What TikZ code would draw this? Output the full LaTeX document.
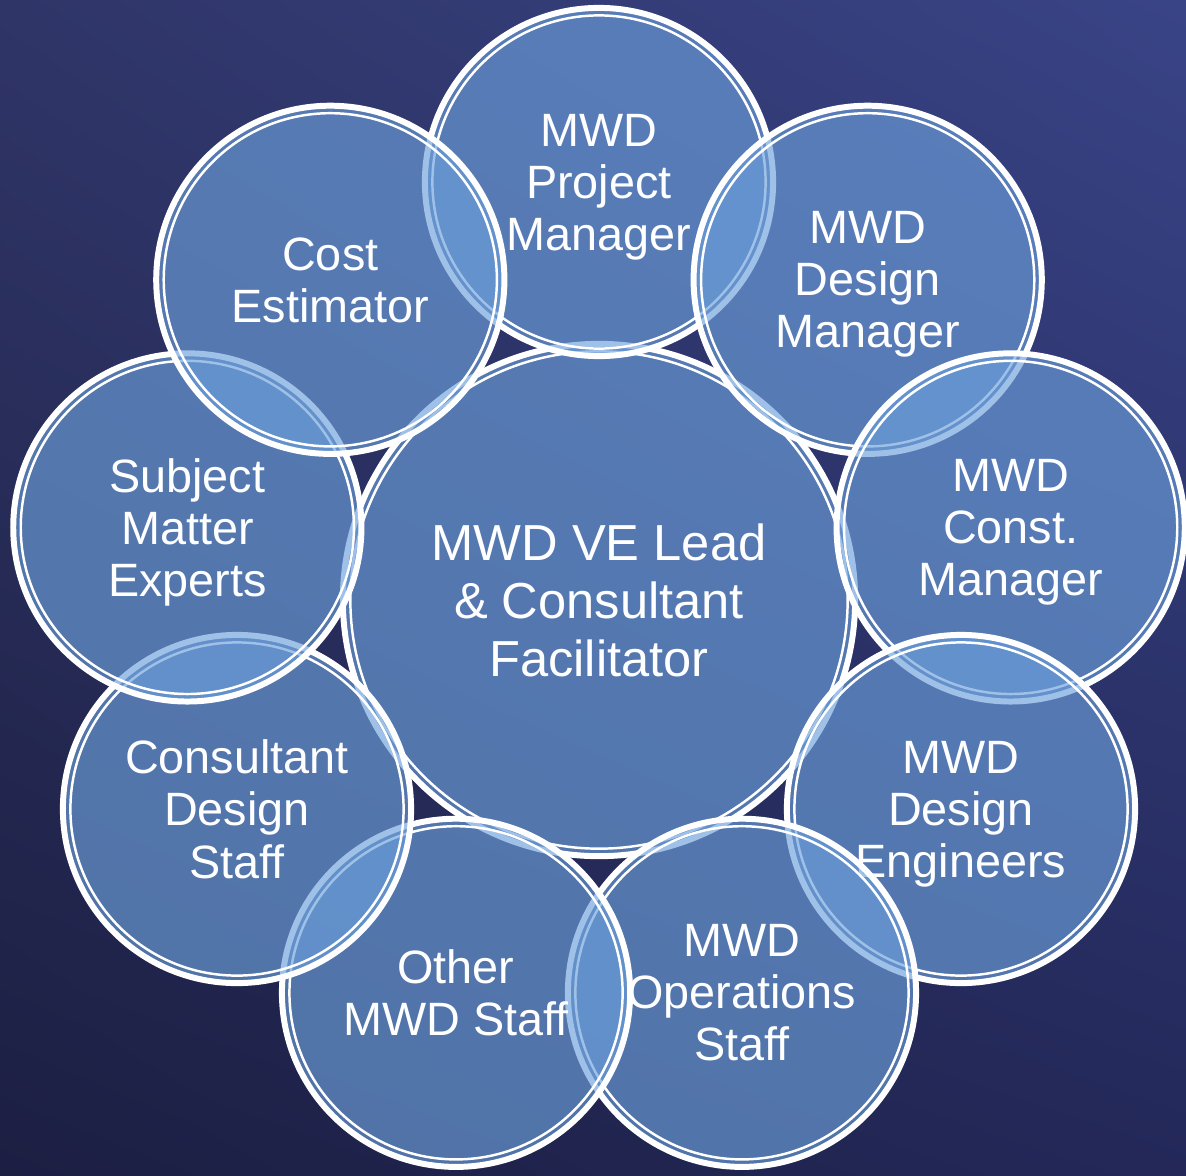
\documentclass[tikz,border=0pt]{standalone}
\usepackage{fontspec}
\usetikzlibrary{shadings}
\newfontfamily\labelfont{Liberation Sans}
\definecolor{bgUL}{HTML}{2F3567}
\definecolor{bgUR}{HTML}{394487}
\definecolor{bgLL}{HTML}{1C1F42}
\definecolor{bgLR}{HTML}{232859}
\definecolor{petalblue}{HTML}{6C9FDB}
\tikzset{
  ring/.style={circle, inner sep=0pt, align=center, text=white, text depth=0pt,
    fill=petalblue, fill opacity=0.65, text opacity=1,
    draw=white, draw opacity=1, line width=1.7pt},
  hub/.style={ring, minimum size=5.12cm,
    font=\labelfont\fontsize{14.4}{16.5}\selectfont,
    path picture={\draw[white, line width=0.7pt] (path picture bounding box.center) circle (2.485cm);}},
  petal/.style={ring, minimum size=3.48cm,
    font=\labelfont\fontsize{13.3}{14.8}\selectfont,
    path picture={\draw[white, line width=0.7pt] (path picture bounding box.center) circle (1.665cm);}},
}
\begin{document}
\begin{tikzpicture}[x=0.01cm,y=0.01cm]
  % background
  \shade[upper left=bgUL, upper right=bgUR, lower left=bgLL, lower right=bgLR]
    (-599,-575) rectangle (587,600);
  \useasboundingbox (-599,-575) rectangle (587,600);

  \node[hub] (lead) at (0,0) {MWD VE Lead\\\& Consultant\\Facilitator};

  \node[petal] (pm) at (90:418) {MWD\\Project\\Manager};
  \node[petal] (dm) at (50:418) {MWD\\Design\\Manager};
  \node[petal] (cm) at (10:418) {MWD\\Const.\\Manager};
  \node[petal] (de) at (-30:418) {MWD\\Design\\Engineers};
  \node[petal] (ops) at (-70:418) {MWD\\Operations\\Staff};
  \node[petal] (other) at (-110:418) {Other\\MWD Staff};
  \node[petal] (cds) at (-150:418) {Consultant\\Design\\Staff};
  \node[petal] (sme) at (170:418) {Subject\\Matter\\Experts};
  \node[petal] (cost) at (130:418) {Cost\\Estimator};
\end{tikzpicture}
\end{document}
